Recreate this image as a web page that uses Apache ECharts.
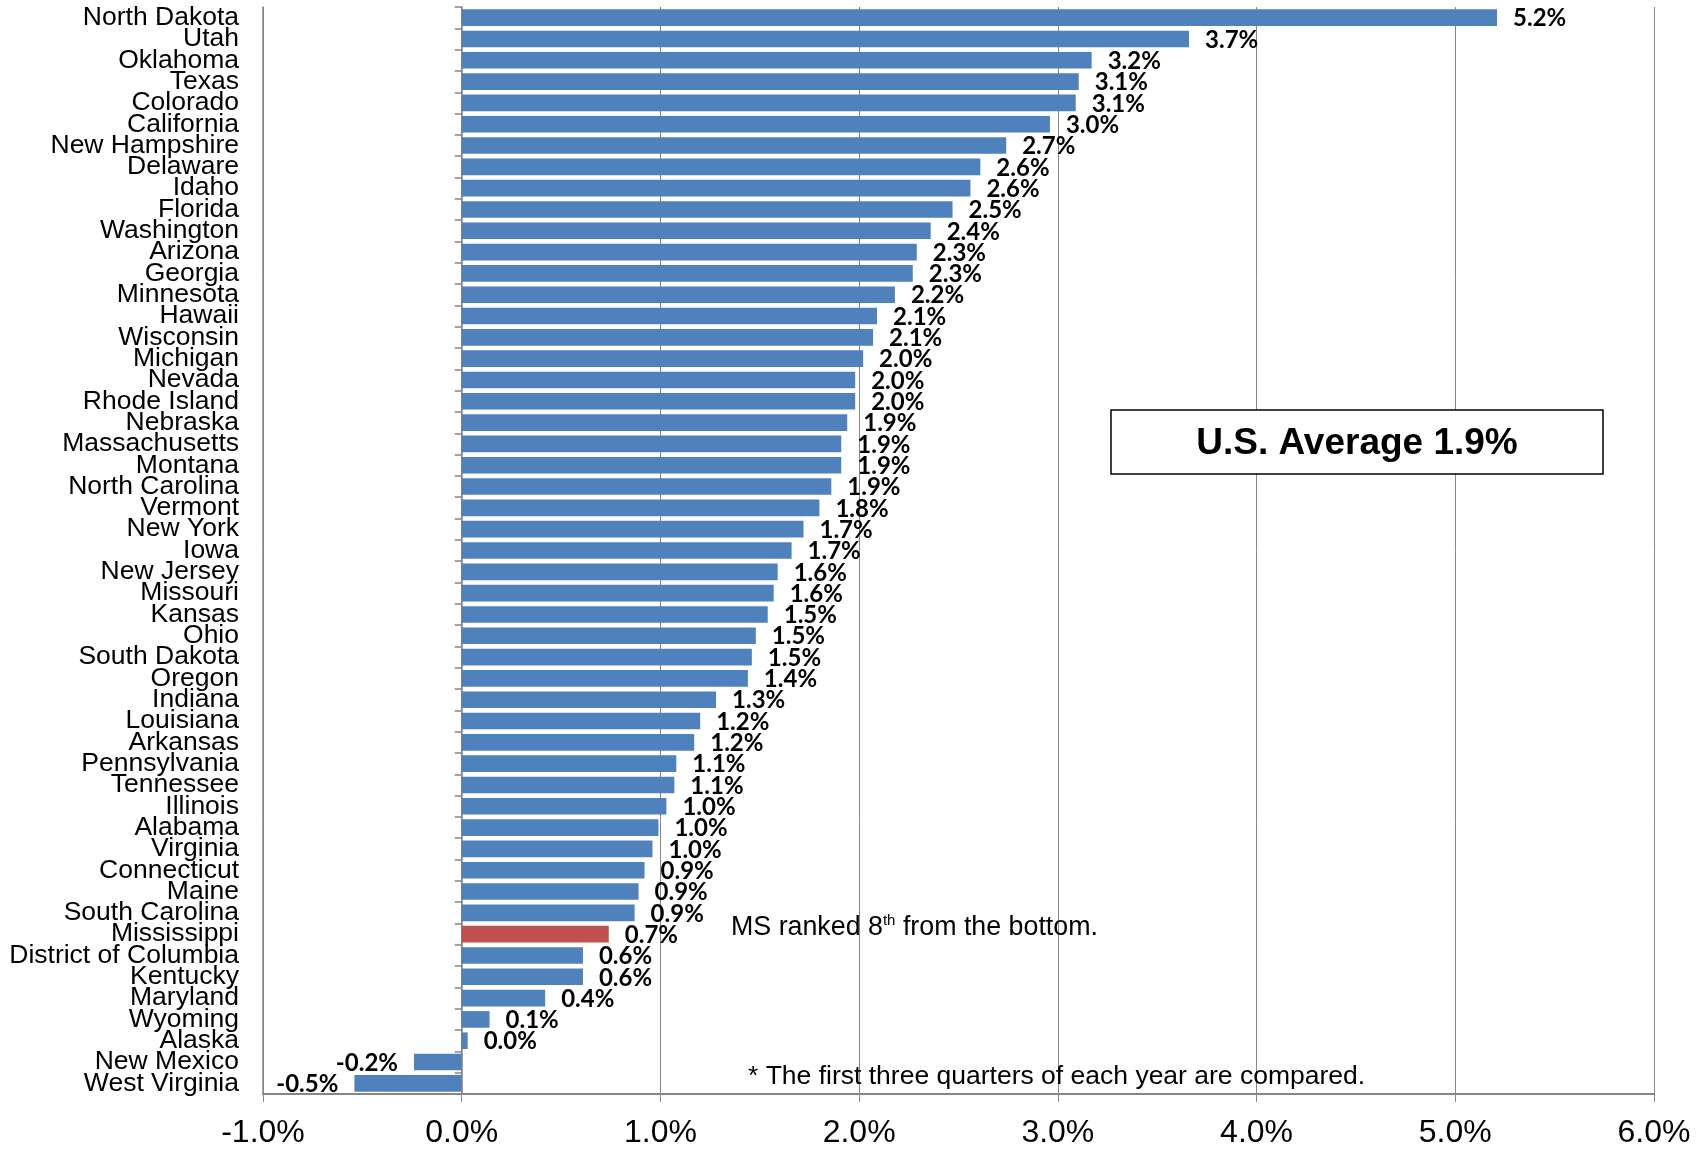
<!DOCTYPE html>
<html>
<head>
<meta charset="utf-8">
<script src="https://cdn.jsdelivr.net/npm/echarts@6/dist/echarts.min.js"></script>
<style>
  html, body { margin: 0; padding: 0; background: #fff; }
  #chart { width: 1707px; height: 1149px; }
</style>
</head>
<body>
<div id="chart"></div>
<script>
const states = [
  'North Dakota', 'Utah', 'Oklahoma', 'Texas', 'Colorado', 'California', 'New Hampshire',
  'Delaware', 'Idaho', 'Florida', 'Washington', 'Arizona', 'Georgia', 'Minnesota', 'Hawaii',
  'Wisconsin', 'Michigan', 'Nevada', 'Rhode Island', 'Nebraska', 'Massachusetts', 'Montana',
  'North Carolina', 'Vermont', 'New York', 'Iowa', 'New Jersey', 'Missouri', 'Kansas', 'Ohio',
  'South Dakota', 'Oregon', 'Indiana', 'Louisiana', 'Arkansas', 'Pennsylvania', 'Tennessee',
  'Illinois', 'Alabama', 'Virginia', 'Connecticut', 'Maine', 'South Carolina', 'Mississippi',
  'District of Columbia', 'Kentucky', 'Maryland', 'Wyoming', 'Alaska', 'New Mexico', 'West Virginia'
];

// growth in percent
const growth = [
  5.21, 3.66, 3.17, 3.105, 3.09, 2.96, 2.74,
  2.61, 2.56, 2.47, 2.36, 2.29, 2.27, 2.18, 2.09,
  2.07, 2.02, 1.98, 1.98, 1.94, 1.91, 1.91,
  1.86, 1.80, 1.72, 1.66, 1.59, 1.57, 1.54, 1.48,
  1.46, 1.44, 1.28, 1.20, 1.17, 1.08, 1.07,
  1.03, 0.99, 0.96, 0.92, 0.89, 0.87, 0.74,
  0.61, 0.61, 0.42, 0.14, 0.03, -0.24, -0.54
];

const xTicks = [-1, 0, 1, 2, 3, 4, 5, 6];
const highlight = 'Mississippi';

const chart = echarts.init(document.getElementById('chart'));

const gray = '#868686';

const barData = growth.map((v, i) => ({
  value: v,
  itemStyle: { color: states[i] === highlight ? '#C0504D' : '#4F81BD' },
  label: { position: v < 0 ? 'left' : 'right' }
}));

const option = {
  animation: false,
  grid: { left: 263, right: 53, top: 7, bottom: 55, containLabel: false },
  xAxis: {
    type: 'value',
    min: xTicks[0],
    max: xTicks[xTicks.length - 1],
    interval: 1,
    axisLine: { show: true, onZero: false, lineStyle: { color: gray, width: 2 } },
    axisTick: { show: true, length: 8, lineStyle: { color: gray, width: 1 } },
    axisLabel: {
      margin: 23,
      fontFamily: 'Liberation Sans',
      fontSize: 32,
      color: '#000',
      formatter: v => v.toFixed(1) + '%'
    },
    splitLine: { show: true, lineStyle: { color: gray, width: 1 } }
  },
  yAxis: [
    {
      type: 'category',
      data: states,
      inverse: true,
      position: 'left',
      axisLine: { show: true, onZero: false, lineStyle: { color: gray, width: 1.5 } },
      axisTick: { show: false },
      axisLabel: {
        interval: 0,
        margin: 24,
        fontFamily: 'Liberation Sans',
        fontSize: 26.5,
        color: '#000',
        padding: [2, 0, 0, 0]
      }
    },
    {
      type: 'category',
      data: states,
      inverse: true,
      position: 'left',
      axisLine: { show: true, onZero: true, lineStyle: { color: gray, width: 1.5 } },
      axisTick: { show: true, length: 7, lineStyle: { color: gray, width: 1.5 } },
      axisLabel: { show: false }
    }
  ],
  series: [
    {
      type: 'bar',
      yAxisIndex: 0,
      barWidth: '78%',
      data: barData,
      label: {
        show: true,
        distance: 16,
        offset: [0, 1],
        fontFamily: 'Lato',
        fontWeight: 'bold',
        fontSize: 24,
        color: '#000',
        formatter: p => p.value.toFixed(1) + '%'
      }
    }
  ],
  graphic: [
    {
      type: 'rect',
      shape: { x: 1111, y: 410, width: 492, height: 64 },
      style: { fill: '#fff', stroke: '#000', lineWidth: 1.5 },
      z: 100
    },
    {
      type: 'text',
      x: 1357,
      y: 444,
      z: 101,
      style: {
        text: 'U.S. Average 1.9%',
        fontFamily: 'Liberation Sans',
        fontWeight: 'bold',
        fontSize: 37,
        fill: '#000',
        align: 'center',
        verticalAlign: 'middle'
      }
    },
    {
      type: 'text',
      x: 731,
      y: 926,
      z: 101,
      style: {
        text: '{a|MS ranked 8}{s|th}{a| from the bottom.}',
        verticalAlign: 'middle',
        rich: {
          a: { fontFamily: 'Liberation Sans', fontSize: 26.8, fill: '#000', lineHeight: 30, verticalAlign: 'bottom' },
          s: { fontFamily: 'Liberation Sans', fontSize: 15, fill: '#000', lineHeight: 30, verticalAlign: 'top', padding: [2, 0, 0, 0] }
        }
      }
    },
    {
      type: 'text',
      x: 748,
      y: 1077,
      z: 101,
      style: {
        text: '* The first three quarters of each year are compared.',
        fontFamily: 'Liberation Sans',
        fontSize: 26.5,
        fill: '#000',
        verticalAlign: 'middle'
      }
    }
  ]
};

chart.setOption(option);
</script>
</body>
</html>
